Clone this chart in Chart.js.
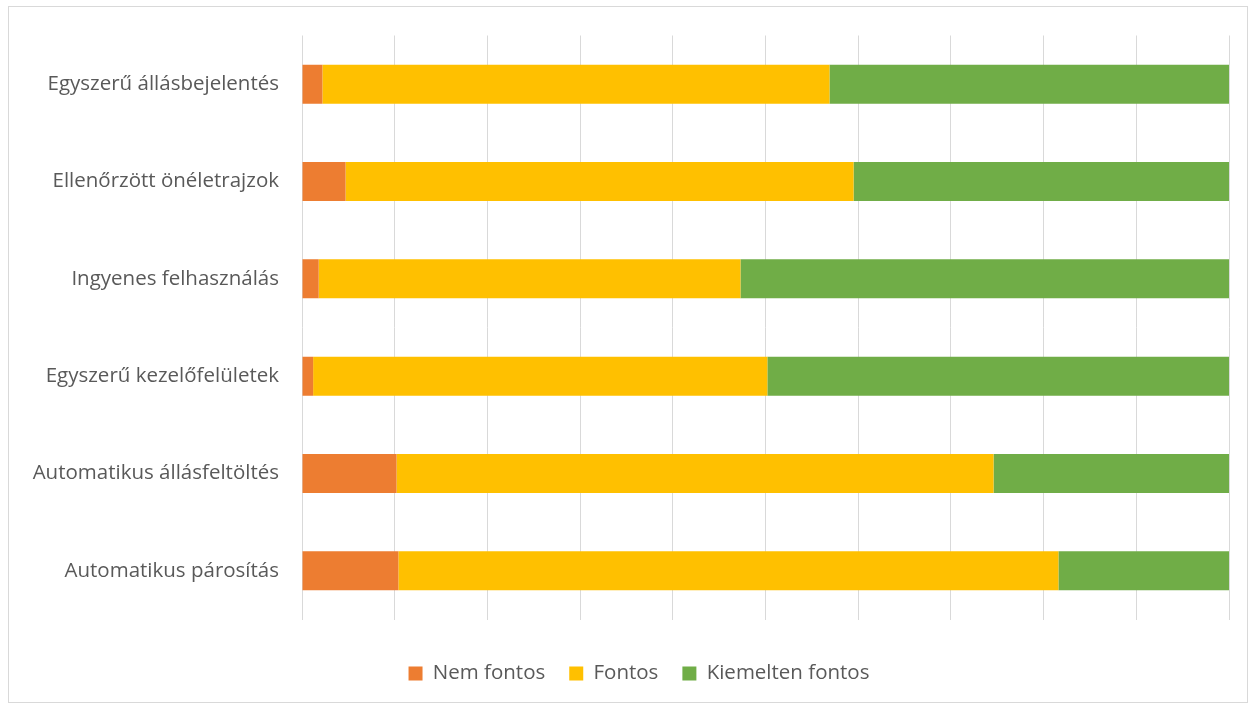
<!DOCTYPE html>
<html>
<head>
<meta charset="utf-8">
<script src="https://cdn.jsdelivr.net/npm/chart.js@4"></script>
<style>
  html, body { margin: 0; padding: 0; background: #ffffff; }
  #frame { position: absolute; left: 8px; top: 6px; width: 1238px; height: 695px; border: 1px solid #d9d9d9; background: #fff; }
  #frame canvas { display: block; }
</style>
</head>
<body>
<div id="frame"><canvas id="c" width="1238" height="695"></canvas></div>
<script>
const categories = [
  "Egyszerű állásbejelentés",
  "Ellenőrzött önéletrajzok",
  "Ingyenes felhasználás",
  "Egyszerű kezelőfelületek",
  "Automatikus állásfeltöltés",
  "Automatikus párosítás"
];
const nemFontos = [2.2, 4.7, 1.8, 1.2, 10.2, 10.4];
const fontos = [54.7, 54.8, 45.5, 49.0, 64.4, 71.2];
const kiemeltenFontos = [43.1, 40.5, 52.7, 49.8, 25.4, 18.4];
const seriesNames = ["Nem fontos", "Fontos", "Kiemelten fontos"];
const seriesColors = ["#ED7D31", "#FFC000", "#70AD47"];
const xTicks = [0, 10, 20, 30, 40, 50, 60, 70, 80, 90, 100];

const FONT = "Open Sans";
const FONT_SIZE = 20.5;
const TEXT = "#595959";

const shiftLegend = {
  id: "shiftLegend",
  afterLayout(chart) {
    if (chart.legend) { chart.legend.left += 20; chart.legend.right += 20; }
  }
};

new Chart(document.getElementById("c"), {
  type: "bar",
  data: {
    labels: categories,
    datasets: [nemFontos, fontos, kiemeltenFontos].map((d, i) => ({
      label: seriesNames[i],
      data: d,
      backgroundColor: seriesColors[i],
      borderWidth: 0,
      barPercentage: 0.4,
      categoryPercentage: 1.0
    }))
  },
  plugins: [shiftLegend],
  options: {
    indexAxis: "y",
    responsive: false,
    animation: false,
    layout: { padding: { top: 28.5, right: 18, bottom: 8.25, left: 0 } },
    scales: {
      x: {
        stacked: true,
        min: 0, max: 100,
        afterBuildTicks: s => { s.ticks = xTicks.map(v => ({ value: v })); },
        afterFit: s => { s.height = 19.75; s.paddingLeft = 0; s.paddingRight = 0; },
        ticks: { display: false },
        grid: { color: "#d9d9d9", lineWidth: 1, drawTicks: false },
        border: { display: false }
      },
      y: {
        stacked: true,
        afterFit: s => { s.width = 293; s.paddingTop = 0; s.paddingBottom = 0; },
        ticks: { color: TEXT, font: { family: FONT, size: FONT_SIZE }, padding: 23 },
        grid: { display: false, drawTicks: false },
        border: { display: false }
      }
    },
    plugins: {
      legend: {
        position: "bottom",
        labels: {
          color: TEXT,
          font: { family: FONT, size: FONT_SIZE },
          boxWidth: 14, boxHeight: 14,
          padding: 24
        }
      },
      tooltip: { enabled: false }
    }
  }
});
</script>
</body>
</html>
